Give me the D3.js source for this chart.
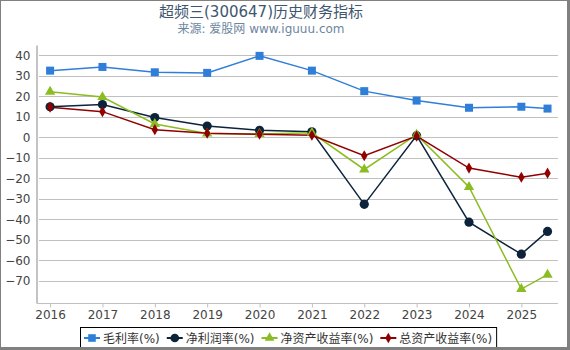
<!DOCTYPE html>
<html>
<head>
<meta charset="utf-8">
<script src="https://cdn.jsdelivr.net/npm/d3@7"></script>
<style>
  body { margin: 0; background: #fff; }
  svg { display: block; font-family: "DejaVu Sans", "Noto Sans CJK SC", sans-serif; }
</style>
</head>
<body>
<svg id="chart" width="570" height="350"></svg>
<script>
// Data
const years = [2016, 2017, 2018, 2019, 2020, 2021, 2022, 2023, 2024, 2025, 2025.5];
const yearTicks = [2016, 2017, 2018, 2019, 2020, 2021, 2022, 2023, 2024, 2025];
const yTicks = [40, 30, 20, 10, 0, -10, -20, -30, -40, -50, -60, -70];

const grossMargin = [32.5, 34.3, 31.7, 31.4, 39.7, 32.5, 22.5, 17.9, 14.4, 14.9, 14.0];
const netMargin = [14.9, 16.0, 9.6, 5.5, 3.4, 2.7, -32.7, 0.8, -41.4, -57.0, -45.9];
const roe = [22.2, 19.6, 6.5, 1.8, 1.6, 2.2, -15.7, 1.3, -24.2, -74.0, -67.0];
const roa = [14.7, 12.5, 3.7, 2.0, 1.5, 1.0, -9.0, 0.6, -15.0, -19.5, -17.5];

const seriesNames = ["毛利率(%)", "净利润率(%)", "净资产收益率(%)", "总资产收益率(%)"];

const COLORS = {
  blue: "#2f7ed8",
  navy: "#0d233a",
  green: "#8bbc21",
  red: "#910000",
  grid: "#c0c0c0",
  axis: "#888888",
  label: "#444444",
  border: "#808080",
};

const series = [
  { name: seriesNames[0], values: grossMargin, color: COLORS.blue, symbol: d3.symbolSquare, size: 64 },
  { name: seriesNames[1], values: netMargin, color: COLORS.navy, symbol: d3.symbolCircle, size: 66 },
  { name: seriesNames[2], values: roe, color: COLORS.green, symbol: d3.symbolTriangle, size: 46 },
  { name: seriesNames[3], values: roa, color: COLORS.red, symbol: d3.symbolDiamond, size: 36 },
];

const svg = d3.select("#chart");

// Frame with shadow on right/bottom
svg.append("rect").attr("x", 0).attr("y", 0).attr("width", 570).attr("height", 350).attr("fill", COLORS.border);
svg.append("rect").attr("x", 1).attr("y", 1).attr("width", 566).attr("height", 346).attr("fill", "#fff");

// Title
svg.append("text")
  .attr("x", 261).attr("y", 17)
  .attr("text-anchor", "middle")
  .style("font-size", "15px")
  .style("fill", "#3e576f")
  .text("超频三(300647)历史财务指标");

svg.append("text")
  .attr("x", 261).attr("y", 33)
  .attr("text-anchor", "middle")
  .style("font-size", "12px")
  .style("fill", "#6d869f")
  .text("来源: 爱股网 www.iguuu.com");

// Scales
const plot = { left: 37, right: 558, top: 45, bottom: 303 };

const x = d3.scaleLinear()
  .domain([2015.75, 2025.7])
  .range([plot.left, plot.right]);

const y = d3.scaleLinear()
  .domain([-80.8, 45])
  .range([plot.bottom, plot.top]);

// Grid lines
svg.append("g")
  .selectAll("line")
  .data(yTicks)
  .enter()
  .append("line")
  .attr("x1", plot.left + 2)
  .attr("x2", plot.right)
  .attr("y1", (d) => Math.round(y(d)) + 0.5)
  .attr("y2", (d) => Math.round(y(d)) + 0.5)
  .attr("stroke", COLORS.grid)
  .attr("stroke-width", 1);

// Y axis
const yAxis = svg.append("g")
  .attr("transform", `translate(${plot.left - 0.5},0)`)
  .call(d3.axisLeft(y).tickValues(yTicks).tickSize(0).tickPadding(6).tickFormat(d3.format("d")));
yAxis.select(".domain").attr("stroke", COLORS.axis);
yAxis.selectAll(".tick text")
  .style("font-family", "DejaVu Sans")
  .style("font-size", "12px")
  .style("fill", COLORS.label);

// X axis
const xAxis = svg.append("g")
  .attr("transform", `translate(0,${plot.bottom + 0.5})`)
  .call(d3.axisBottom(x).tickValues(yearTicks).tickSize(4).tickPadding(3).tickFormat(d3.format("d")));
xAxis.select(".domain").attr("d", `M${plot.left},0H${plot.right}`).attr("stroke", COLORS.grid);
xAxis.selectAll(".tick line").attr("stroke", COLORS.grid);
xAxis.selectAll(".tick text")
  .style("font-family", "DejaVu Sans")
  .style("font-size", "12px")
  .style("fill", COLORS.label);

// Lines and markers
const line = d3.line()
  .x((d, i) => x(years[i]))
  .y((d) => y(d));

series.forEach((s) => {
  svg.append("path")
    .datum(s.values)
    .attr("fill", "none")
    .attr("stroke", s.color)
    .attr("stroke-width", 1.5)
    .attr("d", line);
});

series.forEach((s) => {
  svg.append("g")
    .selectAll("path")
    .data(s.values)
    .enter()
    .append("path")
    .attr("transform", (d, i) => `translate(${x(years[i])},${y(d)})`)
    .attr("d", d3.symbol().type(s.symbol).size(s.size))
    .attr("fill", s.color);
});

// Legend
const legend = svg.append("g");
const legendBox = legend.append("rect");
let cursor = 84;
const legendY = 338;

series.forEach((s) => {
  const item = legend.append("g");
  item.append("line")
    .attr("x1", cursor).attr("x2", cursor + 16)
    .attr("y1", legendY).attr("y2", legendY)
    .attr("stroke", s.color)
    .attr("stroke-width", 2);
  item.append("path")
    .attr("transform", `translate(${cursor + 8},${legendY})`)
    .attr("d", d3.symbol().type(s.symbol).size(s.size * 0.9))
    .attr("fill", s.color);
  const label = item.append("text")
    .attr("x", cursor + 19)
    .attr("y", legendY + 4.5)
    .style("font-size", "12px")
    .style("fill", "#333")
    .text(s.name);
  cursor += 19 + label.node().getComputedTextLength() + 7;
});

legendBox
  .attr("x", 80.5).attr("y", 327.5)
  .attr("width", cursor - 3 - 80)
  .attr("height", 24)
  .attr("fill", "#fff")
  .attr("stroke", "#000")
  .attr("stroke-width", 1);

// Redraw bottom border over legend box
svg.append("rect").attr("x", 0).attr("y", 347).attr("width", 570).attr("height", 3).attr("fill", COLORS.border);
</script>
</body>
</html>
